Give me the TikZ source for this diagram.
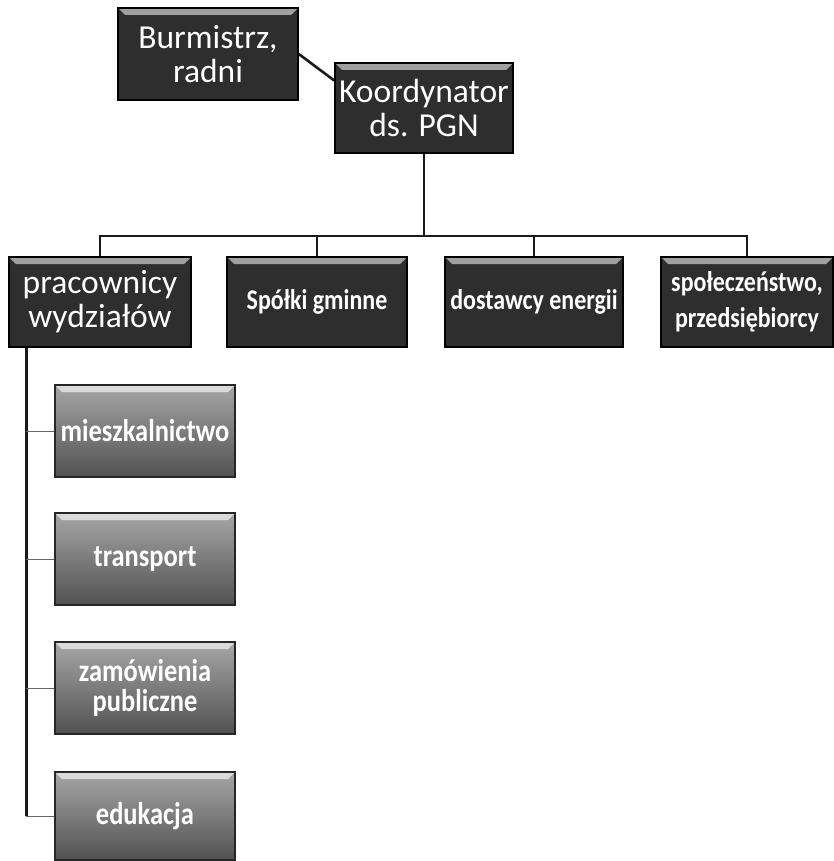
\documentclass[tikz,border=0pt]{standalone}
\usepackage{fontspec}
\newfontfamily\calfont{Carlito}
\newfontfamily\calcond[FakeStretch=0.84]{Carlito}
\usetikzlibrary{calc}
\begin{document}
\begin{tikzpicture}[x=1pt,y=-1pt,
  bevel/.style={path picture={
    \fill[white,opacity=#1] (path picture bounding box.north west) -- (path picture bounding box.north east)
      -- ([shift={(-7,7)}]path picture bounding box.north east) -- ([shift={(7,7)}]path picture bounding box.north west) -- cycle;}},
  darkbox/.style={draw=black,line width=1.6pt,fill=black!82,text=white,
    minimum width=180pt,minimum height=90pt,inner sep=2pt,align=center,bevel=0.55,
    font=\calfont\fontsize{33.5}{34}\selectfont},
  smalltext/.style={font=\calcond\bfseries\fontsize{28.5}{36}\selectfont},
  childbox/.style={draw=black!85,line width=1.6pt,top color=black!35,bottom color=black!68,
    text=white,minimum width=180pt,minimum height=92pt,inner sep=2pt,align=center,bevel=0.6,
    font=\calcond\bfseries\fontsize{31.5}{30}\selectfont},
  conn/.style={line width=2.6pt,draw=black!90},
  tick/.style={line width=0.8pt,draw=black!60}]
\useasboundingbox (0,0) rectangle (834,861);
\node[darkbox,minimum height=92pt] (bur) at (208,54) {Burmistrz,\\radni};
\node[darkbox,minimum width=178pt] (koor) at (424,108) {Koordynator\\ds. PGN};
\node[darkbox,minimum width=182pt] (prac) at (100,302) {pracownicy\\wydziałów};
\node[darkbox,smalltext] (spk) at (317,302) {Spółki gminne};
\node[darkbox,smalltext,minimum width=178pt] (dost) at (534,302) {dostawcy energii};
\node[darkbox,smalltext,minimum width=172pt] (spol) at (747,302) {społeczeństwo,\\przedsiębiorcy};
\node[childbox] (mie) at (145,431) {mieszkalnictwo};
\node[childbox] (tra) at (145,559) {transport};
\node[childbox] (zam) at (145,688) {zamówienia\\publiczne};
\node[childbox,minimum height=88pt] (edu) at (145,816) {edukacja};
\coordinate (bus) at (424,236);
\coordinate (vt) at ([xshift=18pt]prac.south west);
\draw[conn] (bur.east) -- ($(koor.north west)!0.2!(koor.south west)$);
\draw[conn] (koor.south) -- (bus);
\draw[conn] (prac.north) |- (bus) -| (spol.north);
\draw[conn] (spk.north) -- (spk.north |- bus);
\draw[conn] (dost.north) -- (dost.north |- bus);
\draw[conn] (vt) -- (vt |- edu.west);
\foreach \c in {mie,tra,zam,edu}{
  \draw[tick] (\c.west) -- (\c.west -| vt);
}
\end{tikzpicture}
\end{document}
